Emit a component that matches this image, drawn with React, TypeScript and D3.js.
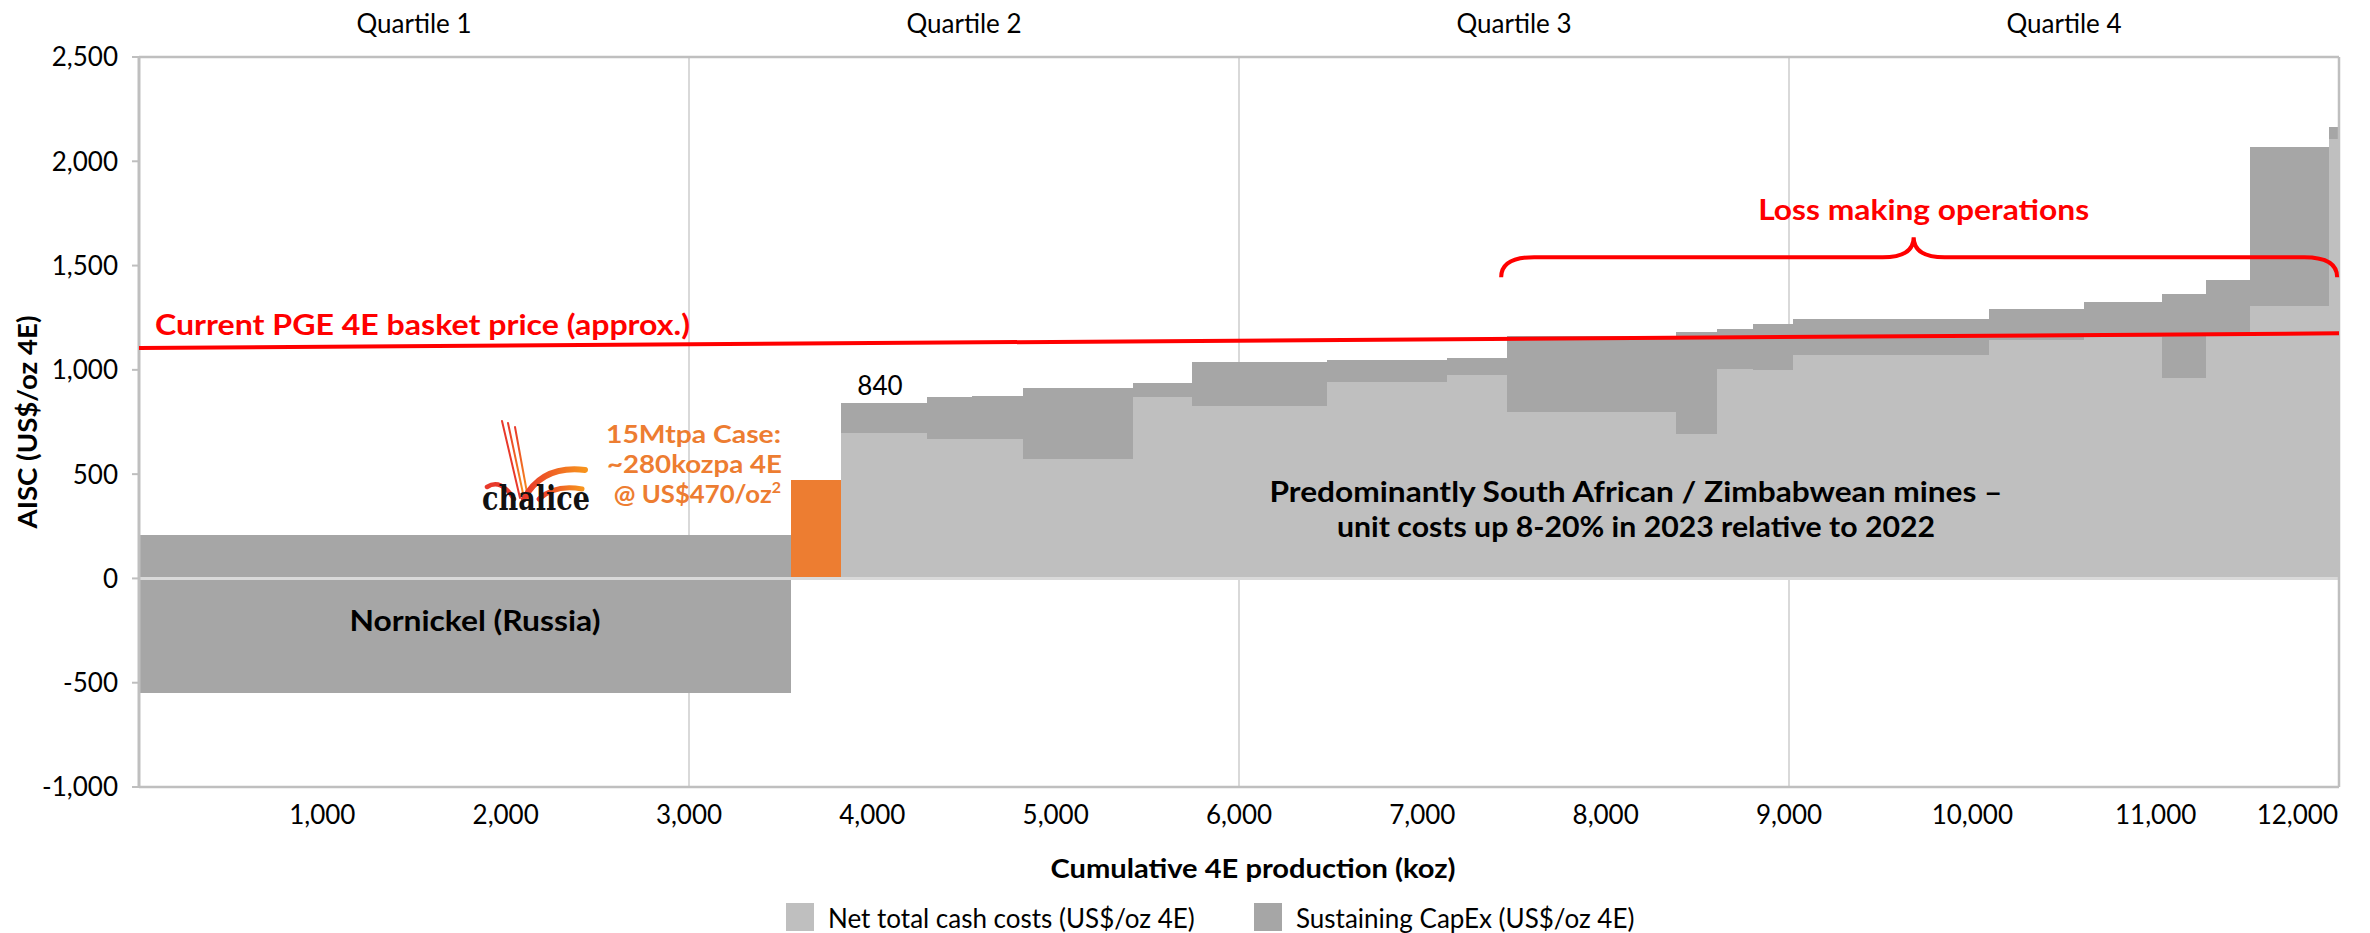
import React from 'react';
import * as d3 from 'd3';

// ---------- data ----------
const quartileLabels = ['Quartile 1', 'Quartile 2', 'Quartile 3', 'Quartile 4'];
const quartileBounds = [0, 3000, 6000, 9000, 12000];
const yTicks = [-1000, -500, 0, 500, 1000, 1500, 2000, 2500];
const xTicks = [1000, 2000, 3000, 4000, 5000, 6000, 7000, 8000, 9000, 10000, 11000, 12000];

const mineIds = ['Nornickel', 'Chalice', 'M03', 'M04', 'M05', 'M06', 'M07', 'M08', 'M09', 'M10', 'M11',
  'M12', 'M13', 'M14', 'M15', 'M16', 'M17', 'M18', 'M19', 'M20', 'M21'];
const productionKoz = [3555, 275, 467, 245, 282, 600, 321, 737, 652, 328, 922,
  225, 193, 222, 1066, 520, 424, 238, 245, 426, 57];
const netCashCost = [-550, 470, 697, 667, 667, 571, 868, 827, 941, 974, 798,
  694, 1002, 1001, 1070, 1145, 1157, 961, 1170, 1305, 2106];
const sustainingCapex = [760, 0, 143, 201, 207, 340, 70, 213, 108, 82, 362,
  487, 196, 217, 172, 145, 168, 404, 259, 764, 56];
const highlightMine = 'Chalice';
const labelledMine = 'M03';

const basketPriceX = [0, 12000];
const basketPrice = [1105, 1175];

const lossBrace = { from: 7430, to: 11990, mid: 9680, level: 1540 };

const legendItems = [
  { label: 'Net total cash costs (US$/oz 4E)', color: '#BFBFBF' },
  { label: 'Sustaining CapEx (US$/oz 4E)', color: '#A6A6A6' },
];

// ---------- styles ----------
const W = 2370;
const H = 933;
const LIGHT = '#BFBFBF';
const DARK = '#A6A6A6';
const ORANGE = '#ED7D31';
const RED = '#FF0000';
const FONT = "Lato, 'Noto Sans', 'DejaVu Sans', sans-serif";

export default function App() {
  const x = d3.scaleLinear().domain([0, 12000]).range([139, 2339]);
  const y = d3.scaleLinear().domain([-1000, 2500]).range([787, 57]);
  const ends = Array.from(d3.cumsum(productionKoz));
  const starts = ends.map((e, i) => e - productionKoz[i]);
  const fmt0 = d3.format(',');
  const fmt = (v: number) => fmt0(v).replace('\u2212', '-');

  const priceLine = d3.line<number>()
    .x((d, i) => x(basketPriceX[i]))
    .y((d) => y(d))(basketPrice) as string;

  const bx0 = x(lossBrace.from);
  const bx1 = x(lossBrace.to);
  const bxc = x(lossBrace.mid);
  const by = y(lossBrace.level);
  const bracePath = `M${bx0},${by + 20} Q${bx0},${by} ${bx0 + 33},${by} L${bxc - 31},${by} Q${bxc},${by} ${bxc},${by - 20} Q${bxc},${by} ${bxc + 31},${by} L${bx1 - 33},${by} Q${bx1},${by} ${bx1},${by + 20}`;

  const labelIdx = mineIds.indexOf(labelledMine);
  const nornIdx = 0;
  const xMax = x.domain()[1];

  return (
    <svg width={W} height={H} style={{ position: 'absolute', left: 0, top: 0, display: 'block', background: '#fff' }}
      fontFamily={FONT}>
      <defs>
        <linearGradient id="chaliceGrad" x1="0" y1="0" x2="1" y2="0">
          <stop offset="0" stopColor="#E8392B" />
          <stop offset="1" stopColor="#F7941D" />
        </linearGradient>
      </defs>

      {/* quartile gridlines */}
      {quartileBounds.slice(1, 4).map((q) => (
        <line key={q} x1={x(q)} x2={x(q)} y1={y(2500)} y2={y(-1000)} stroke="#D9D9D9" strokeWidth={2} />
      ))}

      {/* bars */}
      <g shapeRendering="crispEdges">
        {mineIds.map((id, i) => {
          const x0 = x(starts[i]);
          const w = x(ends[i]) - x0;
          const cash = netCashCost[i];
          const total = cash + sustainingCapex[i];
          if (id === highlightMine) {
            return <rect key={id} x={x0} width={w} y={y(total)} height={y(0) - y(total)} fill={ORANGE} />;
          }
          return (
            <g key={id}>
              <rect x={x0} width={w} y={Math.min(y(0), y(cash))} height={Math.abs(y(cash) - y(0))} fill={LIGHT} />
              <rect x={x0} width={w} y={y(total)} height={y(cash) - y(total)} fill={DARK} />
            </g>
          );
        })}
      </g>

      {/* frame */}
      <line x1={x(0)} x2={x(12000)} y1={y(0)} y2={y(0)} stroke="#D9D9D9" strokeWidth={3} />
      <line x1={x(0)} x2={x(12000)} y1={y(2500)} y2={y(2500)} stroke={LIGHT} strokeWidth={2.5} />
      <line x1={x(0)} x2={x(12000)} y1={y(-1000)} y2={y(-1000)} stroke={LIGHT} strokeWidth={2.5} />
      <line x1={x(12000)} x2={x(12000)} y1={y(2500)} y2={y(-1000)} stroke={LIGHT} strokeWidth={2.5} />
      <line x1={x(0)} x2={x(0)} y1={y(2500) - 1} y2={y(-1000) + 1} stroke={LIGHT} strokeWidth={3} />
      {yTicks.map((t) => (
        <g key={t}>
          <line x1={x(0) - 7} x2={x(0)} y1={y(t)} y2={y(t)} stroke={LIGHT} strokeWidth={2} />
          <text x={118} y={y(t)} dy="0.36em" textAnchor="end" fontSize={26} fill="#000">{fmt(t)}</text>
        </g>
      ))}
      {xTicks.map((t) => (
        <text key={t} x={t === xMax ? x(t) - 1 : x(t)} y={824} textAnchor={t === xMax ? 'end' : 'middle'}
          fontSize={26} fill="#000">{fmt(t)}</text>
      ))}

      {/* quartile labels */}
      {quartileLabels.map((q, i) => (
        <text key={q} x={x((quartileBounds[i] + quartileBounds[i + 1]) / 2)} y={33} textAnchor="middle" fontSize={26} fill="#000">{q}</text>
      ))}

      {/* axis titles */}
      <text transform="translate(37,422) rotate(-90)" textAnchor="middle" fontSize={27} fontWeight="bold" fill="#000"
        textLength={213} lengthAdjust="spacingAndGlyphs">AISC (US$/oz 4E)</text>
      <text x={1253} y={878} textAnchor="middle" fontSize={27} fontWeight="bold" fill="#000"
        textLength={405} lengthAdjust="spacingAndGlyphs">Cumulative 4E production (koz)</text>

      {/* basket price line */}
      <path d={priceLine} stroke={RED} strokeWidth={4} fill="none" />
      <text x={155} y={335} fontSize={28} fontWeight="bold" fill={RED} textLength={535} lengthAdjust="spacingAndGlyphs">
        Current PGE 4E basket price (approx.)
      </text>

      {/* loss making brace */}
      <path d={bracePath} stroke={RED} strokeWidth={4} fill="none" />
      <text x={bxc + 10} y={220} textAnchor="middle" fontSize={29} fontWeight="bold" fill={RED}
        textLength={331} lengthAdjust="spacingAndGlyphs">Loss making operations</text>

      {/* bar label 840 */}
      <text x={(x(starts[labelIdx]) + x(ends[labelIdx])) / 2 - 4} y={y(netCashCost[labelIdx] + sustainingCapex[labelIdx]) - 8}
        textAnchor="middle" fontSize={26} fill="#000">
        {fmt(netCashCost[labelIdx] + sustainingCapex[labelIdx])}
      </text>

      {/* Nornickel label */}
      <text x={(x(starts[nornIdx]) + x(ends[nornIdx])) / 2 + 10} y={631} textAnchor="middle" fontSize={28} fontWeight="bold"
        fill="#000" textLength={251} lengthAdjust="spacingAndGlyphs">Nornickel (Russia)</text>

      {/* SA / Zimbabwe label */}
      <text x={1636} y={502} textAnchor="middle" fontSize={28} fontWeight="bold" fill="#000"
        textLength={733} lengthAdjust="spacingAndGlyphs">Predominantly South African / Zimbabwean mines –</text>
      <text x={1636} y={537} textAnchor="middle" fontSize={28} fontWeight="bold" fill="#000"
        textLength={598} lengthAdjust="spacingAndGlyphs">unit costs up 8-20% in 2023 relative to 2022</text>

      {/* Chalice annotation */}
      <g fontSize={25} fontWeight="bold" fill={ORANGE} textAnchor="end">
        <text x={781} y={443} textLength={175} lengthAdjust="spacingAndGlyphs">15Mtpa Case:</text>
        <text x={782} y={473} textLength={175} lengthAdjust="spacingAndGlyphs">~280kozpa 4E</text>
        <text x={781} y={503}>
          <tspan textLength={158} lengthAdjust="spacingAndGlyphs">@ US$470/oz</tspan>
          <tspan fontSize={16} dy={-10}>2</tspan>
        </text>
      </g>

      {/* Chalice logo */}
      <g fill="none" strokeLinecap="round">
        <path d="M502,421 L520,498" stroke="#E8392B" strokeWidth={2} />
        <path d="M508,423 L524,498" stroke="url(#chaliceGrad)" strokeWidth={2} />
        <path d="M515,427 L528,498" stroke="url(#chaliceGrad)" strokeWidth={2} />
        <path d="M487,487 Q501,478 514,499" stroke="#E8392B" strokeWidth={4.5} />
        <path d="M524,499 Q542,465 585,470" stroke="url(#chaliceGrad)" strokeWidth={6} />
        <path d="M539,499 Q555,484 582,489" stroke="url(#chaliceGrad)" strokeWidth={5} />
      </g>
      <text x={482} y={510} fontSize={34} fontWeight="bold" fontFamily="'DejaVu Serif', 'Liberation Serif', serif" fill="#111"
        textLength={108} lengthAdjust="spacingAndGlyphs">chalice</text>

      {/* legend */}
      {legendItems.map((item, i) => {
        const lx = i === 0 ? 786 : 1254;
        return (
          <g key={item.label}>
            <rect x={lx} y={903} width={28} height={28} fill={item.color} />
            <text x={lx + 42} y={928} fontSize={26} fill="#000">{item.label}</text>
          </g>
        );
      })}
    </svg>
  );
}
